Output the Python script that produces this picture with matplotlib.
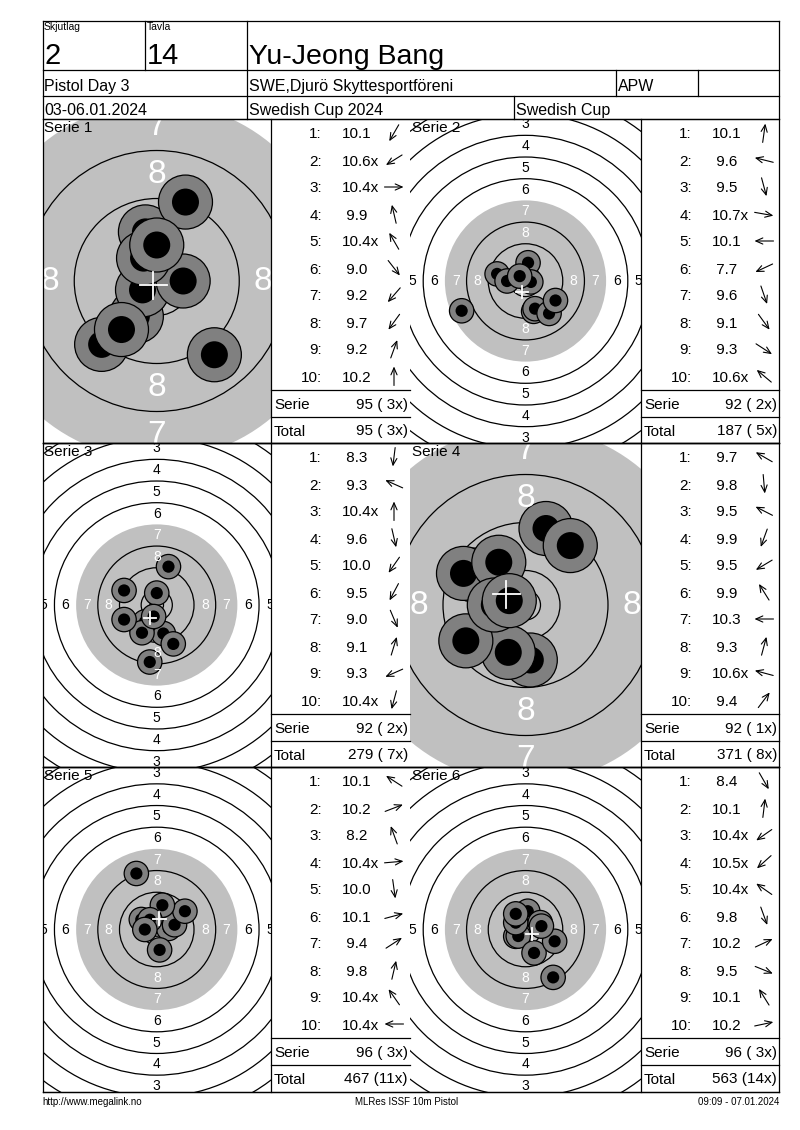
import numpy as np
import matplotlib
matplotlib.use("Agg")
import matplotlib.pyplot as plt
from matplotlib.patches import Circle

plt.rcParams['font.family'] = ['Liberation Sans', 'DejaVu Sans']

# header texts
SQUAD = "2"
LANE = "14"
SHOOTER = "Yu-Jeong Bang"
EVENT = "Pistol Day 3"
CLUB = "SWE,Djurö Skyttesportföreni"
CLASS = "APW"
DATES = "03-06.01.2024"
COMPETITION = "Swedish Cup 2024"
CUP = "Swedish Cup"
FOOTER_LEFT = "http://www.megalink.no"
FOOTER_MID = "MLRes ISSF 10m Pistol"
FOOTER_RIGHT = "09:09 - 07.01.2024"

# decimal scores of each shot, per serie
scores_1 = [10.1, 10.6, 10.4, 9.9, 10.4, 9.0, 9.2, 9.7, 9.2, 10.2]
scores_2 = [10.1, 9.6, 9.5, 10.7, 10.1, 7.7, 9.6, 9.1, 9.3, 10.6]
scores_3 = [8.3, 9.3, 10.4, 9.6, 10.0, 9.5, 9.0, 9.1, 9.3, 10.4]
scores_4 = [9.7, 9.8, 9.5, 9.9, 9.5, 9.9, 10.3, 9.3, 10.6, 9.4]
scores_5 = [10.1, 10.2, 8.2, 10.4, 10.0, 10.1, 9.4, 9.8, 10.4, 10.4]
scores_6 = [8.4, 10.1, 10.4, 10.5, 10.4, 9.8, 10.2, 9.5, 10.1, 10.2]

# direction of each shot seen from the centre, degrees (0 = right, 90 = up)
angles_1 = [240, 212, 0, 103, 120, -52, 229, 234, 70, 90]
angles_2 = [82, 166, -75, -10, 180, 205, -71, -54, -33, 140]
angles_3 = [-97, 156, 90, -77, 235, 242, -67, 73, 204, -105]
angles_4 = [150, -85, 153, -110, 211, 122, 180, 75, 165, 53]
angles_5 = [147, 21, 110, 5, -82, 15, 33, 77, 125, 180]
angles_6 = [-60, 83, 215, 222, 145, -70, 25, -22, 122, 12]

# serie targets shown magnified
zoomed = [True, False, False, True, False, False]

all_scores = [scores_1, scores_2, scores_3, scores_4, scores_5, scores_6]
all_angles = [angles_1, angles_2, angles_3, angles_4, angles_5, angles_6]

# ISSF 10m pistol target (mm)
TEN_R = 5.75
RING_W = 8.0
INNER_TEN_R = 2.5
PELLET_R = 2.25
BLACK_RING = 7

# page layout (pixels)
W, H = 800, 1130
LEFT, RIGHT, TOP = 42.5, 779, 20.5
COLS = [(42.5, 271), (410, 641)]
TABLE_COLS = [(271, 410), (641, 779)]
ROWS = [(119, 443), (443, 767), (767, 1092)]
SCALE_FULL = 2.71
SCALE_ZOOM = 6.0
LABEL_FS_FULL = 10
LABEL_FS_ZOOM = 24
LW = 0.9


def ring_r(k):
    return TEN_R + (10 - k) * RING_W


def shot_dist(s):
    return max(RING_W * (11 - s) - 0.4, 0.0)


def draw_target(fig, box, scores, angles, zoom):
    x0, x1, y0, y1 = box
    scale = SCALE_ZOOM if zoom else SCALE_FULL
    ax = fig.add_axes([x0 / W, (H - y1) / H, (x1 - x0) / W, (y1 - y0) / H])
    hw = (x1 - x0) / 2 / scale
    hh = (y1 - y0) / 2 / scale
    ax.set_xlim(-hw, hw)
    ax.set_ylim(-hh, hh)
    ax.axis('off')
    ax.add_patch(Circle((0, 0), ring_r(BLACK_RING), color='#c0c0c0', lw=0))
    for k in range(1, 11):
        if k == BLACK_RING:
            continue
        ax.add_patch(Circle((0, 0), ring_r(k), fill=False, ec='black', lw=LW))
    ax.add_patch(Circle((0, 0), INNER_TEN_R, fill=False, ec='black', lw=LW))
    fs = LABEL_FS_ZOOM if zoom else LABEL_FS_FULL
    for k in range(1, 9):
        r = ring_r(k) - RING_W / 2
        col = 'white' if k >= BLACK_RING else 'black'
        for dx, dy in [(0, 1), (0, -1), (1, 0), (-1, 0)]:
            ax.text(dx * r, dy * r, str(k), color=col, fontsize=fs,
                    ha='center', va='center', clip_on=True)
    xs, ys = [], []
    for s, a in zip(scores, angles):
        d = shot_dist(s)
        x = d * np.cos(np.radians(a))
        y = d * np.sin(np.radians(a))
        xs.append(x)
        ys.append(y)
        ax.add_patch(Circle((x, y), 2 * PELLET_R, fc='#808080', ec='black', lw=LW))
        ax.add_patch(Circle((x, y), PELLET_R, fc='black', lw=0))
    # mean point of impact
    mx, my = np.mean(xs), np.mean(ys)
    ax.plot([mx - PELLET_R, mx + PELLET_R], [my, my], color='white', lw=1.3)
    ax.plot([mx, mx], [my - PELLET_R, my + PELLET_R], color='white', lw=1.3)


fig = plt.figure(figsize=(W / 100, H / 100), dpi=100)
frame = fig.add_axes([0, 0, 1, 1])
frame.set_xlim(0, W)
frame.set_ylim(H, 0)
frame.axis('off')
frame.set_zorder(5)


def hline(y, xa, xb):
    frame.plot([xa, xb], [y, y], color='black', lw=LW)


def vline(x, ya, yb):
    frame.plot([x, x], [ya, yb], color='black', lw=LW)


# header grid
hline(TOP, LEFT, RIGHT)
hline(70, LEFT, RIGHT)
hline(95.5, LEFT, RIGHT)
vline(144.5, TOP, 70)
vline(246.5, TOP, 119)
vline(615.5, 70, 95.5)
vline(697.5, 70, 95.5)
vline(513.5, 95.5, 119)
vline(LEFT, TOP, ROWS[-1][1])
vline(RIGHT, TOP, ROWS[-1][1])

frame.text(44, 22, "Skjutlag", fontsize=7.5, va='top')
frame.text(147, 22, "Tavla", fontsize=7.5, va='top')
frame.text(44, 63.5, SQUAD, fontsize=21, va='baseline')
frame.text(147, 63.5, LANE, fontsize=21, va='baseline')
frame.text(249, 63.5, SHOOTER, fontsize=20.5, va='baseline')
frame.text(44, 91, EVENT, fontsize=11.5, va='baseline')
frame.text(249, 91, CLUB, fontsize=11.5, va='baseline')
frame.text(618, 91, CLASS, fontsize=11.5, va='baseline')
frame.text(44, 115, DATES, fontsize=11.5, va='baseline')
frame.text(249, 115, COMPETITION, fontsize=11.5, va='baseline')
frame.text(516, 115, CUP, fontsize=11.5, va='baseline')

# panels
total = 0
total_x = 0
for i in range(6):
    row, col = i // 2, i % 2
    y0, y1 = ROWS[row]
    x0, x1 = COLS[col]
    tx0, tx1 = TABLE_COLS[col]
    scores = all_scores[i]
    angles = all_angles[i]
    draw_target(fig, (x0, x1, y0, y1), scores, angles, zoomed[i])

    hline(y0, LEFT, RIGHT)
    hline(y1, LEFT, RIGHT)
    vline(tx0, y0, y1)
    frame.text(x0 + 1.5, y0 + 1.5, f"Serie {i + 1}", fontsize=11, va='top')

    inner = [shot_dist(s) <= INNER_TEN_R + PELLET_R for s in scores]
    for j, (s, a, xx) in enumerate(zip(scores, angles, inner)):
        cy = y0 + 14 + 27 * j
        frame.text(tx0 + 51, cy + 5.5, f"{j + 1}:", fontsize=11, ha='right', va='baseline')
        frame.text(tx0 + 71, cy + 5.5, f"{s:4.1f}" + ("x" if xx else ""),
                   fontsize=11, ha='left', va='baseline')
        cx = tx0 + 123
        dx, dy = 9.5 * np.cos(np.radians(a)), -9.5 * np.sin(np.radians(a))
        frame.annotate('', xy=(cx + dx, cy + dy), xytext=(cx - dx, cy - dy),
                       arrowprops=dict(arrowstyle='->,head_length=0.5,head_width=0.22',
                                       lw=0.8, color='black', shrinkA=0, shrinkB=0))

    serie_sum = sum(int(s) for s in scores)
    serie_x = sum(inner)
    total += serie_sum
    total_x += serie_x
    hline(y0 + 271, tx0, tx1)
    hline(y0 + 298, tx0, tx1)
    frame.text(tx0 + 3, y0 + 290, "Serie", fontsize=11, va='baseline')
    frame.text(tx1 - 2, y0 + 290, f"{serie_sum} ({serie_x:2d}x)", fontsize=11,
               ha='right', va='baseline')
    frame.text(tx0 + 3, y0 + 316.5, "Total", fontsize=11, va='baseline')
    frame.text(tx1 - 2, y0 + 316.5, f"{total} ({total_x:2d}x)", fontsize=11,
               ha='right', va='baseline')

# footer
frame.text(LEFT, 1102, FOOTER_LEFT, fontsize=7, va='center')
frame.text(407, 1102, FOOTER_MID, fontsize=7, va='center', ha='center')
frame.text(RIGHT, 1102, FOOTER_RIGHT, fontsize=7, va='center', ha='right')

fig.savefig("out.png", dpi=100)
